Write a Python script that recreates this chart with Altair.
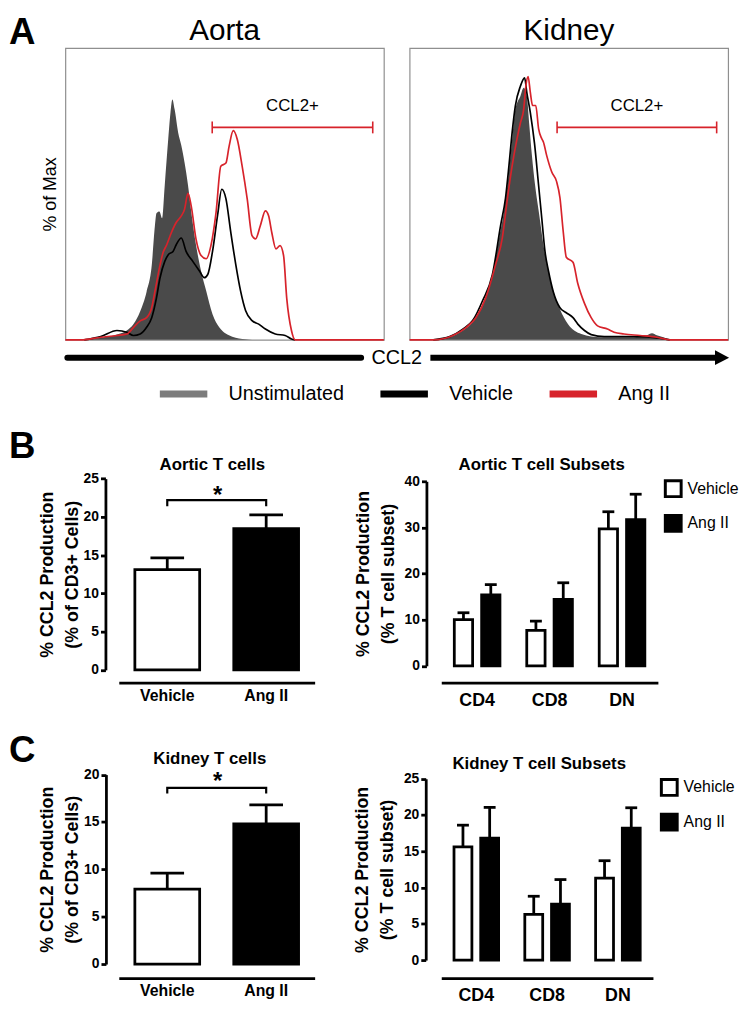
import altair as alt
import pandas as pd

FONT = "Liberation Sans"
RED = "#d7232b"
GREY_FILL = "#4a4a4a"
GREY_KEY = "#7c7c7c"
FRAME = "#8f8f8f"

# ---------------- Panel A : CCL2 flow-cytometry histograms ----------------
hist_series = ["Unstimulated", "Vehicle", "Ang II"]

aorta_unstim_ch = [59, 111, 162, 193, 214, 235, 255, 271, 281, 286, 295, 304, 312, 323, 330, 336, 343, 354, 364, 374,
                   385, 395, 410, 426, 442, 462, 483, 524, 566, 586]
aorta_unstim_pct = [0, 0.7, 1.8, 3.2, 5.4, 9.8, 16.5, 25.4, 39.0, 43.4, 44.0, 41.7, 53.0, 68.9, 77.9, 82.4, 79.0, 71.1,
                    66.6, 60.9, 53.0, 44.0, 32.6, 23.6, 16.8, 8.8, 4.3, 1.1, 0.2, 0]
aorta_vehicle_ch = [59, 111, 162, 193, 214, 235, 255, 271, 286, 297, 312, 323, 338, 348, 364, 379, 400, 421, 436, 447,
                    462, 478, 491, 504, 519, 535, 550, 566, 586, 607, 628, 659, 690, 710, 721]
aorta_vehicle_pct = [0, 1.1, 3.2, 2.6, 1.5, 2.0, 4.3, 7.6, 14.4, 21.2, 26.9, 29.2, 30.3, 32.6, 34.9, 30.3, 26.9, 23.6,
                     21.3, 22.4, 30.3, 42.8, 51.6, 48.4, 37.1, 25.8, 16.8, 10.0, 6.6, 5.4, 3.7, 2.0, 1.5, 0.3, 0]
aorta_ang_ch = [0, 49, 111, 162, 193, 214, 235, 255, 271, 281, 297, 307, 317, 333, 348, 364, 374, 385, 395, 410,
                426, 442, 457, 473, 488, 504, 514, 527, 540, 555, 571, 586, 597, 612, 628, 638, 648, 661, 674, 685,
                695, 710, 721, 1000]
aorta_ang_pct = [0, 0, 0.9, 1.5, 2.0, 4.3, 6.5, 7.6, 11.0, 16.5, 25.5, 30.0, 32.3, 36.8, 40.2, 42.5, 44.7, 50.2, 45.9,
                 34.6, 28.9, 27.8, 32.3, 43.6, 59.5, 60.6, 66.3, 71.7, 68.6, 59.5, 48.2, 35.7, 34.6, 39.1, 44.2, 42.5,
                 36.8, 31.2, 32.3, 28.9, 14.2, 3.1, 0, 0]

kidney_unstim_ch = [74, 126, 167, 198, 229, 260, 281, 296, 307, 322, 332, 348, 358, 368, 376, 384, 394, 407, 420, 436,
                    451, 472, 497, 539, 601, 683, 724, 745, 761, 776, 807, 817]
kidney_unstim_pct = [0, 0.9, 3.2, 6.0, 12.2, 22.4, 34.9, 43.9, 53.0, 68.9, 79.0, 83.6, 86.4, 83.6, 73.4, 63.2, 53.0,
                     42.8, 32.6, 23.6, 16.8, 10.5, 5.4, 2.0, 0.9, 0.9, 1.1, 1.6, 2.3, 1.6, 0.5, 0]
kidney_vehicle_ch = [74, 126, 167, 198, 229, 260, 286, 301, 312, 322, 332, 348, 361, 368, 379, 392, 405, 415, 425, 436,
                     451, 472, 492, 513, 528, 549, 570, 611, 663, 724, 776, 817]
kidney_vehicle_pct = [0, 1.1, 3.7, 6.6, 13.4, 22.4, 39.4, 48.5, 59.8, 71.2, 80.2, 87.0, 89.8, 84.7, 77.9, 67.4, 52.9,
                      41.6, 30.3, 23.6, 16.5, 11.0, 9.3, 7.6, 5.4, 3.2, 1.8, 1.1, 1.1, 1.1, 0.7, 0]
kidney_ang_ch = [0, 74, 136, 178, 208, 239, 270, 291, 307, 322, 337, 348, 358, 365, 372, 379, 386, 396, 405, 415,
                 420, 430, 446, 461, 472, 482, 492, 513, 528, 549, 570, 590, 621, 642, 673, 724, 776, 817, 1000]
kidney_ang_pct = [0, 0, 1.5, 4.3, 7.6, 14.4, 25.8, 34.9, 48.4, 59.7, 68.8, 74.4, 78.9, 87.0, 90.2, 84.8, 80.3, 80.3,
                  72.3, 68.9, 67.8, 63.3, 57.6, 54.4, 48.7, 37.4, 28.3, 26.6, 19.3, 12.5, 7.6, 4.8, 3.7, 2.6, 2.0,
                  1.5, 0.9, 0, 0]

# CCL2+ gate: start channel, end channel, height (% of max)
aorta_gate = [461, 965, 72.8]
kidney_gate = [463, 964, 72.8]

# ---------------- Panels B / C : bar charts ----------------
groups = ["Vehicle", "Ang II"]
subsets = ["CD4", "CD8", "DN"]

aortic_mean = [13.1, 18.45]
aortic_sem = [1.55, 1.8]
aortic_bracket = [21.4, 22.2, 22.2, 21.4]
aortic_star = 23.5

kidney_mean = [7.9, 14.8]
kidney_sem = [1.7, 2.0]
kidney_bracket = [18.0, 18.6, 18.6, 18.0]
kidney_star = 19.9

aortic_sub_vehicle = [10.0, 7.7, 29.7]
aortic_sub_vehicle_sem = [1.5, 2.0, 3.7]
aortic_sub_ang = [15.4, 14.4, 31.7]
aortic_sub_ang_sem = [2.2, 3.6, 5.5]

kidney_sub_vehicle = [15.6, 6.3, 11.3]
kidney_sub_vehicle_sem = [3.0, 2.5, 2.4]
kidney_sub_ang = [16.8, 7.7, 18.2]
kidney_sub_ang_sem = [4.25, 3.4, 2.8]

W, H = 322, 295
DY = 5  # vertical nudge of the bar-chart rows inside their cells


def text_layer(txt, x, y, size, weight="normal", align="left", baseline="alphabetic"):
    return alt.Chart(pd.DataFrame({"t": [txt]})).mark_text(
        font=FONT, fontSize=size, fontWeight=weight, align=align, baseline=baseline, color="black"
    ).encode(x=alt.value(x), y=alt.value(y), text="t:N")


def histogram(title, uch, upct, vch, vpct, ach, apct, gate, first):
    xs = alt.Scale(domain=[0, 1000], nice=False, zero=False)
    ys = alt.Scale(domain=[0, 100], nice=False)
    if first:
        yaxis = alt.Axis(title="% of Max", labels=False, ticks=False, domain=False, grid=False,
                         titleFont=FONT, titleFontSize=18, titleFontWeight="normal", titleColor="black",
                         titlePadding=6)
    else:
        yaxis = None

    def X(f):
        return alt.X(f, scale=xs, axis=None)

    def Y(f):
        return alt.Y(f, scale=ys, axis=yaxis)

    udf = pd.DataFrame({"ch": uch, "pct": upct})
    ldf = pd.concat([
        pd.DataFrame({"series": "Vehicle", "ch": vch, "pct": vpct, "ord": range(len(vch))}),
        pd.DataFrame({"series": "Ang II", "ch": ach, "pct": apct, "ord": range(len(ach))}),
    ])
    if first:
        leg = alt.Legend(title=None, orient="none", legendX=92, legendY=322, direction="horizontal",
                         symbolType="stroke", symbolSize=2304, symbolStrokeWidth=7, symbolOpacity=1,
                         labelFont=FONT, labelFontSize=20, labelColor="black", labelOffset=18,
                         columnPadding=22, padding=0)
    else:
        leg = None
    area = alt.Chart(udf).mark_area(color=GREY_FILL, interpolate="monotone", opacity=1).encode(
        x=X("ch:Q"), y=Y("pct:Q"))
    lines = alt.Chart(ldf).mark_line(strokeWidth=1.7, interpolate="monotone").encode(
        x=X("ch:Q"), y=Y("pct:Q"),
        color=alt.Color("series:N", scale=alt.Scale(domain=hist_series, range=[GREY_KEY, "#000000", RED]),
                        legend=leg),
        order="ord:Q")
    gdf = pd.DataFrame({"start": [gate[0]], "end": [gate[1]], "level": [gate[2]], "label": ["CCL2+"]})
    grule = alt.Chart(gdf).mark_rule(color=RED, strokeWidth=1.6).encode(
        x=X("start:Q"), x2="end:Q", y=Y("level:Q"))
    gcaps = alt.Chart(gdf).transform_fold(["start", "end"], as_=["k", "edge"]).mark_tick(
        orient="vertical", color=RED, size=12, thickness=1.6, opacity=1).encode(x=X("edge:Q"), y=Y("level:Q"))
    gtext = alt.Chart(gdf).transform_calculate(mid="(datum.start + datum.end) / 2").mark_text(
        font=FONT, fontSize=17, dy=-22, baseline="middle", color="black").encode(
        x=X("mid:Q"), y=Y("level:Q"), text="label:N")
    layers = [area, lines, grule, gcaps, gtext, text_layer(title, W / 2, -8, 30, align="center")]
    one = pd.DataFrame({"k": [0]})
    if first:
        layers.append(alt.Chart(one).mark_rule(color="black", strokeWidth=6, strokeCap="round").encode(
            x=alt.value(2), x2=alt.value(299), y=alt.value(313)))
        layers.append(text_layer("CCL2", 335, 313, 20, align="center", baseline="middle"))
        layers.append(text_layer("A", -57, -33, 37, weight="bold", baseline="top"))
    else:
        layers.append(alt.Chart(one).mark_rule(color="black", strokeWidth=6).encode(
            x=alt.value(21), x2=alt.value(312), y=alt.value(313)))
        layers.append(alt.Chart(one).mark_point(shape="M-0.9,-1L1,0L-0.9,1Z", filled=True, size=225,
                                                color="black", opacity=1).encode(
            x=alt.value(315.5), y=alt.value(313)))
    return alt.layer(*layers).properties(
        width=W, height=H,
        view=alt.ViewBackground(stroke=FRAME, strokeWidth=1.2))


def y_axis(values, title, offset, pad):
    return alt.Axis(values=values, title=title, offset=offset, grid=False, domainColor="black", domainWidth=2.8,
                    tickColor="black", tickWidth=2.8, tickSize=5, labelFont=FONT, labelFontSize=14,
                    labelFontWeight="bold", labelColor="black", labelPadding=2, titleFont=FONT, titleFontSize=18,
                    titleFontWeight="bold", titleColor="black", titleLineHeight=25, titlePadding=pad)


def x_axis(offset, size, pad):
    return alt.Axis(title=None, ticks=False, labelAngle=0, offset=offset, domainColor="black", domainWidth=2.8,
                    labelFont=FONT, labelFontSize=size, labelFontWeight="bold", labelColor="black",
                    labelPadding=pad, grid=False)


def simple_panel(mean, sem, bracket, star, ymax, yvals, yrange, yoff, xoff, title, title_xy, letter, letter_y):
    df = pd.DataFrame({"cat": groups, "val": mean, "sem": sem})
    xs = alt.Scale(domain=groups, range=[54, 252], paddingInner=0.345, paddingOuter=0.1625)
    ys = alt.Scale(domain=[0, ymax], range=[yrange[0] + DY, yrange[1] + DY], nice=False, zero=True)
    X = alt.X("cat:N", scale=xs, axis=x_axis(xoff + DY, 16, 5))
    yax = y_axis(yvals, ["% CCL2 Production", "(% of CD3+ Cells)"], yoff, 2)

    def Y(f):
        return alt.Y(f, scale=ys, axis=yax)

    bars = alt.Chart(df).mark_bar(stroke="black", strokeWidth=2.8).encode(
        x=X, y=Y("val:Q"),
        fill=alt.Fill("cat:N", scale=alt.Scale(domain=groups, range=["white", "black"]), legend=None))
    err = alt.Chart(df).transform_calculate(upper="datum.val + datum.sem").mark_rule(
        color="black", strokeWidth=2.8).encode(x=X, y=Y("val:Q"), y2="upper:Q")
    cap = alt.Chart(df).transform_calculate(upper="datum.val + datum.sem").mark_tick(
        orient="horizontal", color="black", size=34, thickness=2.8, opacity=1).encode(x=X, y=Y("upper:Q"))
    br = pd.DataFrame({"cat": [groups[0], groups[0], groups[1], groups[1]], "val": bracket, "ord": [0, 1, 2, 3]})
    bline = alt.Chart(br).mark_line(color="black", strokeWidth=2.2).encode(x=X, y=Y("val:Q"), order="ord:Q")
    st = alt.Chart(pd.DataFrame({"val": [star], "t": ["*"]})).mark_text(
        font=FONT, fontSize=24, fontWeight="bold", dy=6.5, color="black").encode(
        x=alt.value(154), y=Y("val:Q"), text="t:N")
    ttl = text_layer(title, title_xy[0], title_xy[1] + DY, 17, weight="bold", align="center")
    let = text_layer(letter, -57, letter_y + DY, 37, weight="bold")
    return alt.layer(bars, err, cap, bline, st, ttl, let).properties(width=W, height=H)


def subset_panel(veh, veh_sem, ang, ang_sem, ymax, yvals, yrange, yoff, xrange, xoff, title, title_xy, leg_xy):
    df = pd.concat([
        pd.DataFrame({"subset": subsets, "group": "Vehicle", "val": veh, "sem": veh_sem}),
        pd.DataFrame({"subset": subsets, "group": "Ang II", "val": ang, "sem": ang_sem}),
    ])
    xs = alt.Scale(domain=subsets, range=xrange, paddingInner=0.37, paddingOuter=0.18)
    X = alt.X("subset:N", scale=xs, axis=x_axis(xoff + DY, 18, 9))
    XO = alt.XOffset("group:N", scale=alt.Scale(domain=groups, paddingInner=0.33, paddingOuter=0))
    ys = alt.Scale(domain=[0, ymax], range=[yrange[0] + DY, yrange[1] + DY], nice=False, zero=True)
    yax = y_axis(yvals, ["% CCL2 Production", "(% T cell subset)"], yoff, 7)

    def Y(f):
        return alt.Y(f, scale=ys, axis=yax)

    leg = alt.Legend(title=None, orient="none", legendX=leg_xy[0], legendY=leg_xy[1] + DY, symbolType="square",
                     symbolSize=256, symbolStrokeColor="black", symbolStrokeWidth=3, labelFont=FONT,
                     labelFontSize=16, labelColor="black", labelOffset=5, rowPadding=6, padding=0)
    bars = alt.Chart(df).mark_bar(stroke="black", strokeWidth=2.8).encode(
        x=X, xOffset=XO, y=Y("val:Q"),
        fill=alt.Fill("group:N", scale=alt.Scale(domain=groups, range=["white", "black"]), legend=leg))
    err = alt.Chart(df).transform_calculate(upper="datum.val + datum.sem").mark_rule(
        color="black", strokeWidth=2.8).encode(x=X, xOffset=XO, y=Y("val:Q"), y2="upper:Q")
    cap = alt.Chart(df).transform_calculate(upper="datum.val + datum.sem").mark_tick(
        orient="horizontal", color="black", size=12, thickness=2.8, opacity=1).encode(
        x=X, xOffset=XO, y=Y("upper:Q"))
    ttl = text_layer(title, title_xy[0], title_xy[1] + DY, 17, weight="bold", align="center")
    return alt.layer(bars, err, cap, ttl).properties(width=W, height=H)


aorta = histogram("Aorta", aorta_unstim_ch, aorta_unstim_pct, aorta_vehicle_ch, aorta_vehicle_pct,
                  aorta_ang_ch, aorta_ang_pct, aorta_gate, True)
kidney = histogram("Kidney", kidney_unstim_ch, kidney_unstim_pct, kidney_vehicle_ch, kidney_vehicle_pct,
                   kidney_ang_ch, kidney_ang_pct, kidney_gate, False)

b_left = simple_panel(aortic_mean, aortic_sem, aortic_bracket, aortic_star, 25, [0, 5, 10, 15, 20, 25],
                      [308.6, 115.3], -40.5, 26.5, "Aortic T cells", (148.5, 107), "B", 94)
b_right = subset_panel(aortic_sub_vehicle, aortic_sub_vehicle_sem, aortic_sub_ang, aortic_sub_ang_sem, 40,
                       [0, 10, 20, 30, 40], [304.5, 118], -17, [32, 251], 26.5, "Aortic T cell Subsets",
                       (133.5, 107), (257, 116))
c_left = simple_panel(kidney_mean, kidney_sem, kidney_bracket, kidney_star, 20, [0, 5, 10, 15, 20],
                      [291, 99.5], -41, 10.3, "Kidney T cells", (146, 89), "C", 87)
c_right = subset_panel(kidney_sub_vehicle, kidney_sub_vehicle_sem, kidney_sub_ang, kidney_sub_ang_sem, 25,
                       [0, 5, 10, 15, 20, 25], [287, 103.7], -16.3, [32, 246], 10.3, "Kidney T cell Subsets",
                       (131, 94), (253, 103))

chart = alt.concat(
    aorta, kidney, b_left, b_right, c_left, c_right,
    columns=2, spacing={"row": 20, "column": 26}, bounds="flush", align="all", padding=0,
).resolve_scale(
    x="independent", y="independent", xOffset="independent", color="independent", fill="independent"
).resolve_axis(x="independent", y="independent").resolve_legend(
    color="independent", fill="independent"
).configure_view(stroke="transparent")

chart.save("out.html", embed_options={"renderer": "svg", "actions": False})
